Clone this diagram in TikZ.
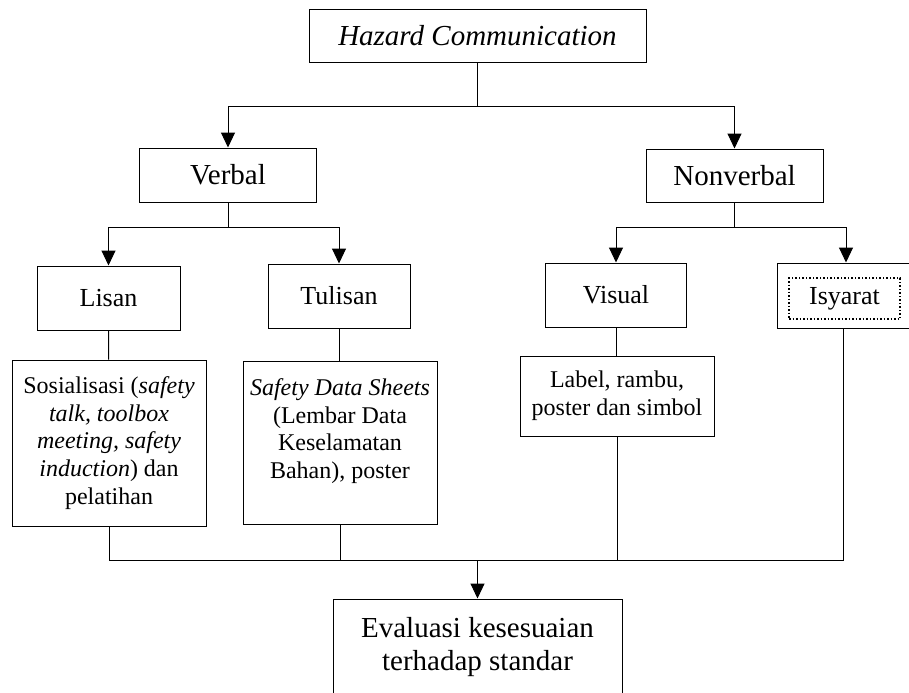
\documentclass[tikz,border=0pt]{standalone}
\usepackage{fontspec}
\setmainfont{Liberation Serif}
\usetikzlibrary{arrows.meta}
\begin{document}
\begin{tikzpicture}[x=0.5pt,y=-0.5pt,line width=0.5pt,
  box/.style={draw,align=center,inner sep=2pt},
  big/.style={font=\fontsize{14.5}{16.5}\selectfont},
  mid/.style={font=\fontsize{13}{15}\selectfont},
  small/.style={font=\fontsize{12}{13.8}\selectfont},
  dotbox/.style={draw,densely dotted,line width=0.75pt,minimum width=55.5pt,minimum height=20.5pt,inner sep=0pt},
  arr/.style={-{Triangle[length=7.5pt,width=7pt]}}]
\clip (0,0) rectangle (909,692);
% boxes
\node[box,big,minimum width=168.5pt,minimum height=26.5pt] (hazard) at (477.5,35.5) {\itshape Hazard Communication};
\node[box,big,minimum width=88.5pt,minimum height=27pt] (verbal) at (228,175) {Verbal};
\node[box,big,minimum width=88.5pt,minimum height=26.5pt] (nonverbal) at (734.5,175.5) {Nonverbal};
\node[box,mid,minimum width=71.5pt,minimum height=32pt] (lisan) at (108.5,298) {Lisan};
\node[box,mid,minimum width=71pt,minimum height=32pt] (tulisan) at (339,296) {Tulisan};
\node[box,mid,minimum width=70.5pt,minimum height=32pt] (visual) at (616,295) {Visual};
\node[box,minimum width=66pt,minimum height=32.5pt] (isyarat) at (843,295.5) {};
\node[dotbox,mid] (isyaratin) at (844.5,298.5) {Isyarat};
\node[box,small,minimum width=97pt,minimum height=83pt] (sosialisasi) at (109,443)
  {Sosialisasi (\textit{safety}\\ \textit{talk, toolbox}\\ \textit{meeting, safety}\\ \textit{induction}) dan\\ pelatihan};
\node[box,small,minimum width=97pt,minimum height=81.5pt] (sds) at (340,442.5)
  {\textit{Safety Data Sheets}\\ (Lembar Data\\ Keselamatan\\ Bahan), poster\\ \mbox{}};
\node[box,small,minimum width=97pt,minimum height=40pt] (label) at (617,396)
  {Label, rambu,\\ poster dan simbol};
\node[box,big,minimum width=144.5pt,minimum height=48pt] (evaluasi) at (477.5,647)
  {Evaluasi kesesuaian\\ terhadap standar};
% junctions
\coordinate (hc) at (477.5,106);
\coordinate (vb) at (228,227);
\coordinate (nb) at (734.5,227);
\coordinate (bus) at (477.5,560);
% connectors
\draw (hazard) -- (hc);
\draw[arr] (hc) -| (verbal);
\draw[arr] (hc) -| (nonverbal);
\draw (verbal) -- (vb);
\draw[arr] (vb) -| (lisan);
\draw[arr] (vb) -| (tulisan);
\draw (nonverbal) -- (nb);
\draw[arr] (nb) -| (visual);
\draw[arr] (nb) -| ([xshift=1.5pt]isyarat.north);
\draw (lisan) -- (sosialisasi);
\draw (tulisan) -- (tulisan |- sds.north);
\draw (visual) -- (visual |- label.north);
\draw (sosialisasi) |- (bus);
\draw (sds.south) -- (sds.south |- bus);
\draw (label.south) -- (label.south |- bus);
\draw (isyarat) |- (bus);
\draw[arr] (bus) -- (evaluasi);
\end{tikzpicture}
\end{document}
